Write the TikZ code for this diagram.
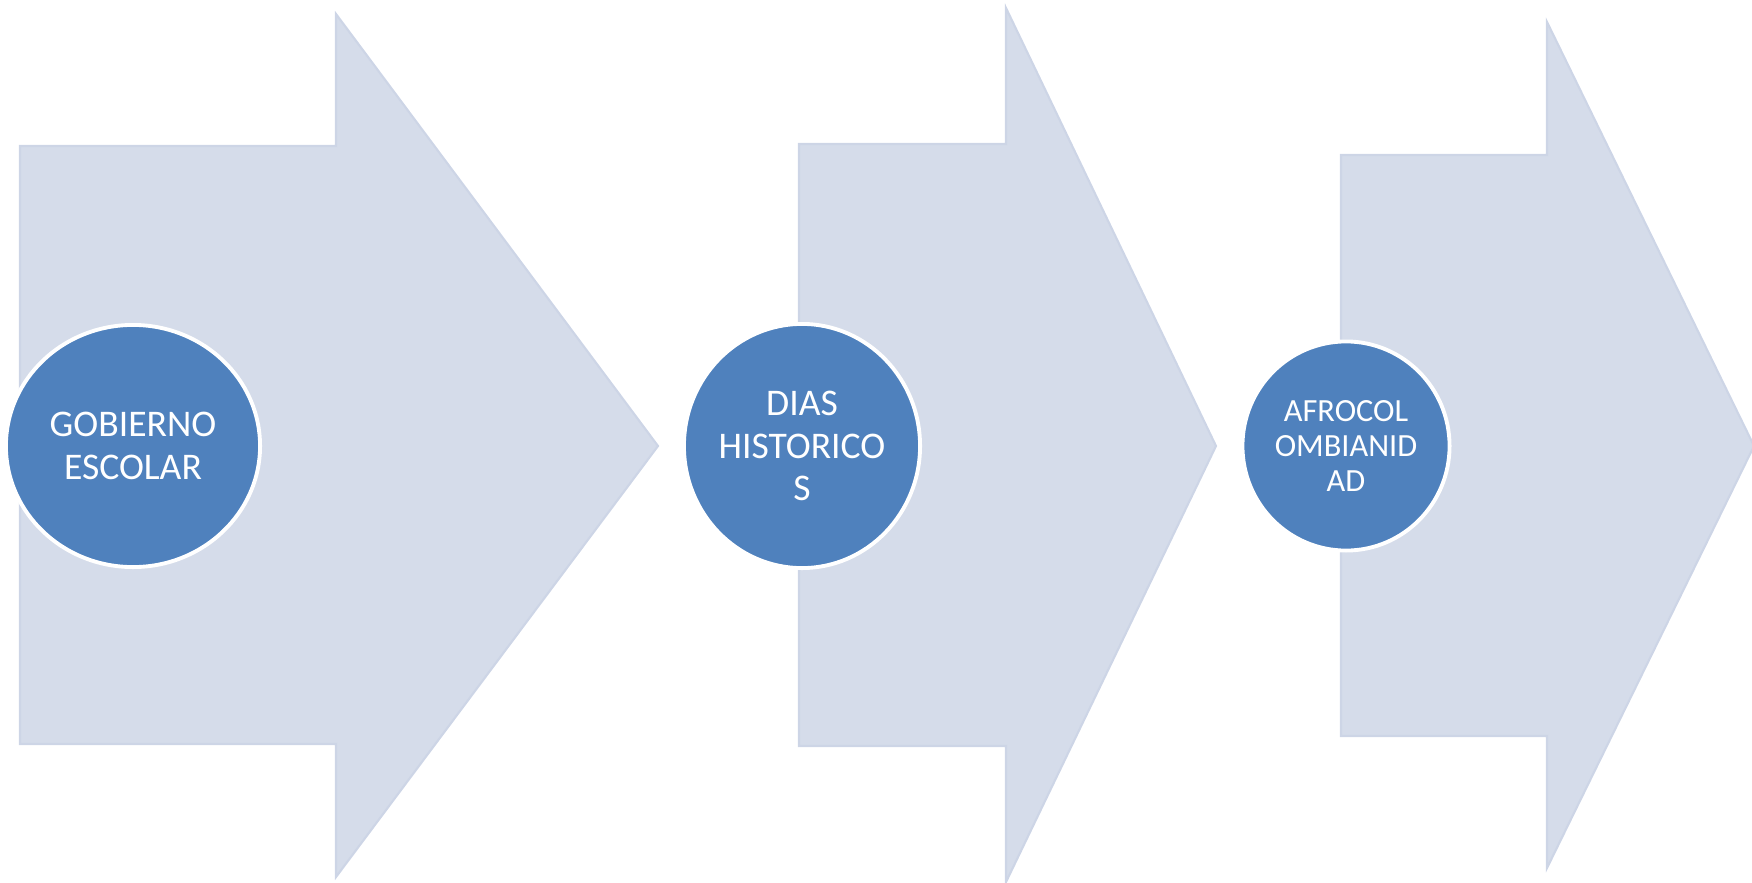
\documentclass[tikz,border=0pt]{standalone}
\usepackage{fontspec}
\setmainfont{Carlito}
\usetikzlibrary{shapes.geometric}
\definecolor{arrowfill}{HTML}{D5DCEA}
\definecolor{arrowline}{HTML}{CDD5E6}
\definecolor{stepblue}{HTML}{4F81BD}
\tikzset{
	bigarrow/.style={fill=arrowfill, draw=arrowline, line width=0.6pt, line join=miter},
	stepdot/.style={ellipse, fill=stepblue, draw=white, line width=1.1pt, text=white, align=center, inner sep=0pt, font=\fontsize{10.7}{12}\selectfont}
}
\begin{document}
\begin{tikzpicture}[x=0.01cm, y=-0.01cm]
		%%%%% START %%%%%
		\useasboundingbox (0, 0) rectangle (1752, 882);
		
		\draw[bigarrow] (20, 146) -- (336, 146) -- (336, 14) -- (658, 446) -- (336, 877) -- (336, 744) -- (20, 744) -- cycle;
		\draw[bigarrow] (799, 144) -- (1006, 144) -- (1006, 8) -- (1216, 446) -- (1006, 882) -- (1006, 746) -- (799, 746) -- cycle;
		\draw[bigarrow] (1341, 155) -- (1547, 155) -- (1547, 22) -- (1754, 446) -- (1547, 868) -- (1547, 736) -- (1341, 736) -- cycle;
		
		\node[stepdot, minimum width=2.54cm, minimum height=2.42cm] (gobierno) at (133, 446) {GOBIERNO\\ESCOLAR};
		\node[stepdot, minimum width=2.36cm, minimum height=2.44cm] (dias) at (802, 446) {DIAS\\HISTORICO\\S};
		\node[stepdot, minimum width=2.07cm, minimum height=2.09cm, font=\fontsize{9.2}{10}\selectfont] (afro) at (1346, 446) {AFROCOL\\OMBIANID\\AD};
		%%%%% END %%%%%
	\end{tikzpicture}
\end{document}
